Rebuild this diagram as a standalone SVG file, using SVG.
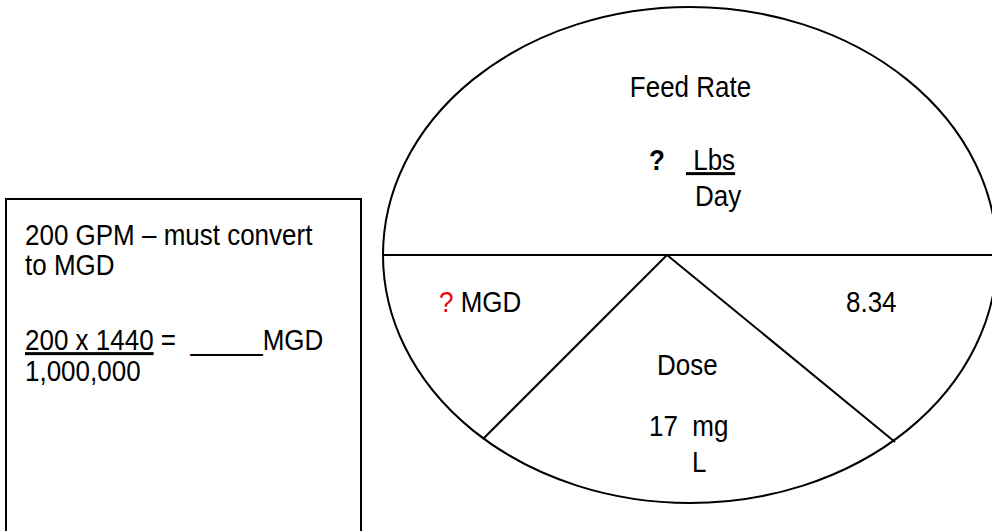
<svg xmlns="http://www.w3.org/2000/svg" width="992" height="531" viewBox="0 0 992 531">
  <style>
    .t { font-family: "Liberation Sans", Arial, sans-serif; font-size: 26px; fill: #000; white-space: pre; }
    .b { font-weight: bold; }
    .red { fill: #e8000b; }
    .u { text-decoration: underline; }
    .edge { stroke: #000; stroke-width: 2; fill: none; }
  </style>
  <rect width="992" height="531" fill="#fff"/>

  <!-- note box: flow conversion (labels are placed by translate to their baseline, then stretched taller) -->
  <g id="note">
    <rect x="6" y="199" width="355" height="340" fill="#fff" stroke="#000" stroke-width="2"/>
    <text class="t" transform="translate(25 245) scale(1 1.15)">200 GPM – must convert</text>
    <text class="t" transform="translate(25 275) scale(1 1.15)">to MGD</text>
    <text class="t" transform="translate(25 350) scale(1 1.15)" xml:space="preserve"><tspan class="u">200 x 1440</tspan> =  _____MGD</text>
    <text class="t" transform="translate(25 381) scale(1 1.15)">1,000,000</text>
  </g>

  <!-- the formula wheel outline -->
  <g id="wheel">
    <ellipse class="edge" cx="690" cy="255" rx="307" ry="248"/>
  </g>

  <!-- dividing lines of the wheel -->
  <g id="connectors">
    <line class="edge" x1="383" y1="255" x2="992" y2="255"/>
    <line class="edge" x1="667" y1="255" x2="483" y2="439"/>
    <line class="edge" x1="667" y1="255" x2="895" y2="442"/>
  </g>

  <g id="feed-rate">
    <text class="t" transform="translate(690.5 97) scale(1 1.15)" text-anchor="middle">Feed Rate</text>
    <text class="t b" transform="translate(649 170) scale(1 1.15)">?</text>
    <text class="t" transform="translate(686 170) scale(1 1.15)" xml:space="preserve"><tspan class="u"> Lbs</tspan></text>
    <text class="t" transform="translate(695 206) scale(1 1.15)">Day</text>
  </g>

  <g id="flow">
    <text class="t" transform="translate(439 312) scale(1 1.15)" xml:space="preserve"><tspan class="red">?</tspan> MGD</text>
  </g>

  <g id="factor">
    <text class="t" transform="translate(846 312) scale(1 1.15)">8.34</text>
  </g>

  <g id="dose">
    <text class="t" transform="translate(657 375) scale(1 1.15)">Dose</text>
    <text class="t" transform="translate(649 436) scale(1 1.15)" xml:space="preserve">17  m<tspan class="u">g</tspan></text>
    <text class="t" transform="translate(692 472) scale(1 1.15)">L</text>
  </g>
</svg>
